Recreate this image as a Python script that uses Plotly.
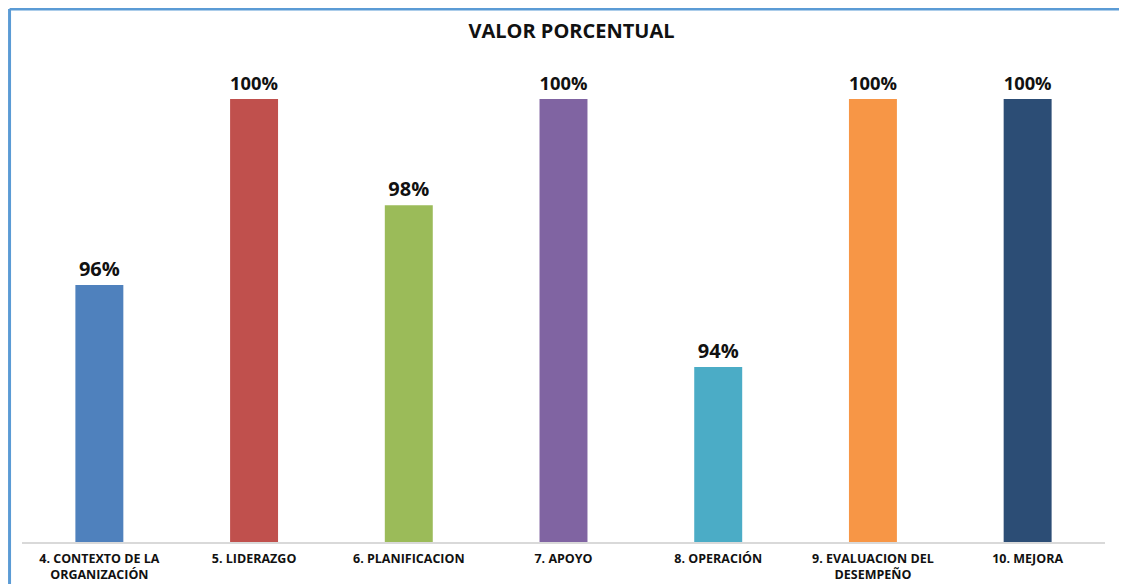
import plotly.graph_objects as go

categories = ["4. CONTEXTO DE LA<br>ORGANIZACIÓN", "5. LIDERAZGO", "6. PLANIFICACION",
              "7. APOYO", "8. OPERACIÓN", "9. EVALUACION DEL<br>DESEMPEÑO", "10. MEJORA"]
values = [95.8, 100, 97.6, 100, 93.95, 100, 100]
colors = ["#4F81BD", "#C0504D", "#9BBB59", "#8064A2", "#4BACC6", "#F79646", "#2C4D75"]

fig = go.Figure(go.Bar(
    x=categories, y=values, marker=dict(color=colors, line=dict(width=0)),
    texttemplate="%{y:.0f}%", textposition="outside", cliponaxis=False,
    textfont=dict(family="Open Sans", size=20, color="#111111", weight="bold"),
))

fig.update_layout(
    width=1127, height=584,
    margin=dict(l=14, r=30, t=52, b=50, autoexpand=False),
    paper_bgcolor="white", plot_bgcolor="white",
    bargap=0.69, showlegend=False,
    title=dict(text="<b>VALOR PORCENTUAL</b>", x=0.5, xanchor="center", y=0.96, yanchor="middle",
               font=dict(family="Open Sans", size=20, color="#111111")),
    xaxis=dict(showline=True, linecolor="#D9D9D9", linewidth=1.5, ticks="", ticklabelstandoff=4,
               automargin=False,
               tickfont=dict(family="Open Sans", size=12.5, color="#111111", weight="bold")),
    yaxis=dict(range=[90, 100.88], visible=False, showgrid=False, automargin=False),
    shapes=[
        dict(type="line", xref="paper", yref="paper", x0=-0.0115, x1=-0.0115, y0=-0.2, y1=1.106,
             line=dict(color="#5B9BD5", width=3)),
        dict(type="line", xref="paper", yref="paper", x0=-0.0115, x1=1.05, y0=1.106, y1=1.106,
             line=dict(color="#5B9BD5", width=3)),
    ],
)

fig.write_html("out.html")
